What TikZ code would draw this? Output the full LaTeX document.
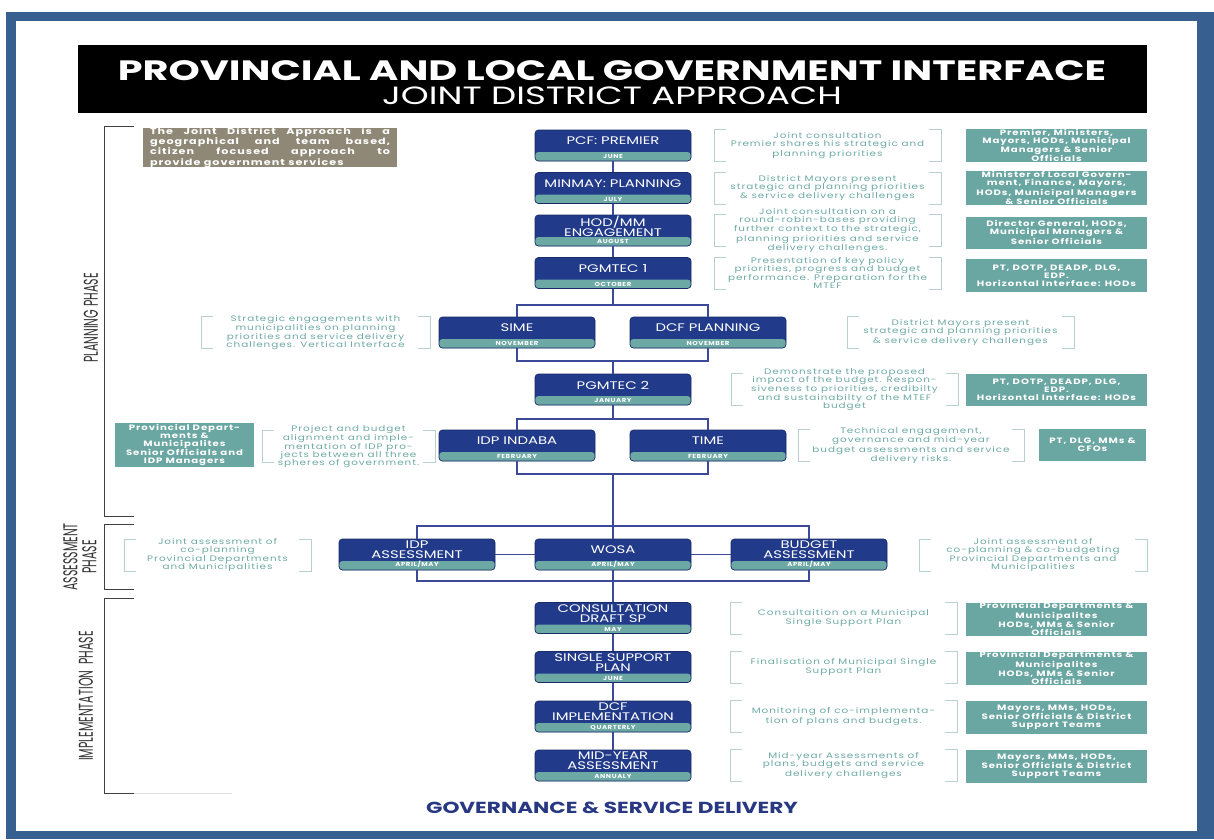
\documentclass[tikz,border=0pt]{standalone}
\usepackage{fontspec}
\setmainfont{Poppins}
\newfontfamily\bigfont[FakeStretch=1.42]{Poppins}
\newfontfamily\headfont[FakeStretch=1.35]{Poppins}
\newfontfamily\notefont[FakeStretch=1.3,LetterSpace=12]{Poppins}
\newfontfamily\smallfont[FakeStretch=1.2,LetterSpace=10]{Poppins}
\newfontfamily\phasefont[FakeStretch=0.55]{Poppins}
\usetikzlibrary{positioning,calc}

\definecolor{framebl}{RGB}{55,96,145}
\definecolor{navy}{RGB}{33,58,138}
\definecolor{bandteal}{RGB}{108,168,164}
\definecolor{boxteal}{RGB}{106,166,162}
\definecolor{notetxt}{RGB}{110,170,164}
\definecolor{brk}{RGB}{184,208,206}
\definecolor{wire}{RGB}{60,72,152}
\definecolor{khaki}{RGB}{143,136,119}
\definecolor{govblue}{RGB}{40,56,130}

\begin{document}
\begin{tikzpicture}[x=1pt,y=-1pt,
    wire/.style={draw=wire,line width=1.3pt},
    stage/.style={rectangle,rounded corners=3.5pt,fill=navy,draw=navy!75!black,line width=0.7pt,
      minimum width=156pt,minimum height=31pt,inner sep=0pt,
      path picture={\fill[bandteal] ([yshift=9pt]path picture bounding box.south west)
        rectangle (path picture bounding box.south east);}},
    stagetitle/.style={text=white,align=center,inner sep=0pt,
      font=\headfont\fontsize{11}{10}\selectfont},
    stagemonth/.style={anchor=south,text=white,inner sep=0pt,
      font=\smallfont\bfseries\fontsize{5.8}{6}\selectfont},
    note/.style={text=notetxt,align=center,inner sep=0pt,
      font=\notefont\fontsize{8}{8.2}\selectfont},
    bracket/.style={draw=brk,line width=0.9pt},
    tealbox/.style={fill=boxteal,text=white,align=center,inner sep=0pt,
      font=\notefont\bfseries\fontsize{7.8}{8}\selectfont},
    phase/.style={draw=black!75,line width=0.9pt},
    phaselabel/.style={rotate=90,text=black!80,align=center,inner sep=0pt,
      font=\phasefont\fontsize{20}{19}\selectfont}]

  \useasboundingbox (0,0) rectangle (1214,839);
  % frame
  \fill[framebl] (6,12) rectangle (1214,839);
  \fill[white] (16,21) rectangle (1197,831);

  % banner
  \node[fill=black,minimum width=1069pt,minimum height=68pt,inner sep=0pt] (banner) at (612.5,79) {};
  \node[text=white,font=\bigfont\bfseries\fontsize{28}{28}\selectfont] (title) at (612,71)
    {PROVINCIAL AND LOCAL GOVERNMENT INTERFACE};
  \node[text=white,font=\bigfont\fontsize{25}{25}\selectfont] (subtitle) at (612,96)
    {JOINT DISTRICT APPROACH};

  \node[fill=khaki,text=white,minimum width=254pt,minimum height=37pt,inner sep=0pt,
    text width=240pt,align=justify,font=\notefont\bfseries\fontsize{8.6}{9}\selectfont] (intro) at (270,147.5)
    {The Joint District Approach is a\linebreak geographical and team based,\linebreak
     citizen focused approach to\linebreak provide government services};

  % phases
  \draw[phase] (134,126) -| (104,516) -- (134,516);
  \draw[phase] (134,524) -| (104,589) -- (134,589);
  \draw[phase] (134,598) -| (104,793) -- (134,793);
  \draw[draw=black!12,line width=0.9pt] (134,793) -- (232,793);
  \node[phaselabel] (plan) at (91,318) {PLANNING PHASE};
  \node[phaselabel] (assess) at (80,557) {ASSESSMENT\\PHASE};
  \node[phaselabel] (impl) at (86,696) {IMPLEMENTATION\ \ PHASE};

  % stages
  \foreach \n/\x/\y/\ttl/\mon in {
      pcf/613/145.5/{PCF: PREMIER}/JUNE,
      minmay/613/188/{MINMAY: PLANNING}/JULY,
      hodmm/613/230.5/{HOD/MM\\ENGAGEMENT}/AUGUST,
      pgm1/613/273/{PGMTEC 1}/OCTOBER,
      sime/517/332.5/SIME/NOVEMBER,
      dcfp/708/332.5/{DCF PLANNING}/NOVEMBER,
      pgm2/613/389.5/{PGMTEC 2}/JANUARY,
      indaba/517/445.5/{IDP INDABA}/FEBRUARY,
      time/708/445.5/TIME/FEBRUARY,
      idpa/417/554.5/{IDP\\ASSESSMENT}/{APRIL/MAY},
      wosa/613/554.5/WOSA/{APRIL/MAY},
      budget/809/554.5/{BUDGET\\ASSESSMENT}/{APRIL/MAY},
      consult/613/618/{CONSULTATION\\DRAFT SP}/MAY,
      ssp/613/667/{SINGLE SUPPORT\\PLAN}/JUNE,
      dcfimp/613/716.5/{DCF\\IMPLEMENTATION}/QUARTERLY,
      midyear/613/765.5/{MID-YEAR\\ASSESSMENT}/ANNUALY}{
    \node[stage] (\n) at (\x,\y) {};
    \node[stagetitle] (\n-t) at ([yshift=4.5pt]\n.center) {\ttl};
    \node[stagemonth] (\n-m) at ([yshift=2.2pt]\n.south) {\mon};
  }

  % connectors
  \draw[wire] (pcf.south) -- (minmay.north);
  \draw[wire] (minmay.south) -- (hodmm.north);
  \draw[wire] (hodmm.south) -- (pgm1.north);
  \coordinate (b1top) at (613,305);
  \coordinate (b1bot) at (613,361);
  \draw[wire] (pgm1.south) -- (b1top);
  \draw[wire] (sime.north) |- (b1top) -| (dcfp.north);
  \draw[wire] (sime.south) |- (b1bot) -| (dcfp.south);
  \draw[wire] (b1bot) -- (pgm2.north);
  \coordinate (b2top) at (613,419);
  \coordinate (b2bot) at (613,474);
  \draw[wire] (pgm2.south) -- (b2top);
  \draw[wire] (indaba.north) |- (b2top) -| (time.north);
  \draw[wire] (indaba.south) |- (b2bot) -| (time.south);
  \coordinate (atop) at (613,526);
  \coordinate (abot) at (613,581);
  \draw[wire] (b2bot) -- (atop) -- (wosa.north);
  \draw[wire] (idpa.north) |- (atop) -| (budget.north);
  \draw[wire] (idpa.south) |- (abot) -| (budget.south);
  \draw[wire] (idpa) -- (wosa) (wosa) -- (budget);
  \draw[wire] (wosa.south) -- (abot) -- (consult.north);
  \draw[wire] (consult.south) -- (ssp.north);
  \draw[wire] (ssp.south) -- (dcfimp.north);
  \draw[wire] (dcfimp.south) -- (midyear.north);

  % descriptions in brackets
  \foreach \n/\x/\y/\w/\txt in {
      n1/827.5/145.5/227/{Joint consultation\\Premier shares his strategic and\\planning priorities},
      n2/827.5/188/227/{District Mayors present\\strategic and planning priorities\\\& service delivery challenges},
      n3/827.5/230.5/227/{Joint consultation on a\\round-robin-bases providing\\further context to the strategic,\\planning priorities and service\\delivery challenges.},
      n4/827.5/273/227/{Presentation of key policy\\priorities, progress and budget\\performance. Preparation for the\\MTEF},
      n5/315.5/332.5/229/{Strategic engagements with\\municipalities on planning\\priorities and service delivery\\challenges. Vertical Interface},
      n6/960.5/332.5/227/{District Mayors present\\strategic and planning priorities\\\& service delivery challenges},
      n7/844.5/389.5/227/{Demonstrate the proposed\\impact of the budget. Respon-\\siveness to priorities, credibilty\\and sustainabilty of the MTEF\\budget},
      n8/348.5/446.5/173/{Project and budget\\alignment and imple-\\mentation of IDP pro-\\jects between all three\\spheres of government.},
      n9/911/445.5/226/{Technical engagement,\\governance and mid-year\\budget assessments and service\\delivery risks.},
      n10/217.5/555/187/{Joint assessment of\\co-planning\\Provincial Departments\\and Municipalities},
      n11/1033/555/228/{Joint assessment of\\co-planning \& co-budgeting\\Provincial Departments and\\Municipalities},
      n12/843.5/618/227/{Consultaition on a Municipal\\Single Support Plan},
      n13/843.5/667/227/{Finalisation of Municipal Single\\Support Plan},
      n14/843.5/716.5/227/{Monitoring of co-implementa-\\tion of plans and budgets.},
      n15/843.5/765.5/227/{Mid-year Assessments of\\plans, budgets and service\\delivery challenges}}{
    \node[note] (\n) at (\x,\y) {\txt};
    \draw[bracket] (\x-\w/2+12,\y-16) -| (\x-\w/2,\y+16) -- ++(12,0)
                   (\x+\w/2-12,\y-16) -| (\x+\w/2,\y+16) -- ++(-12,0);
  }

  % who takes part
  \foreach \n/\x/\y/\w/\h/\txt in {
      t1/1056.5/145.5/181/32/{Premier, Ministers,\\Mayors, HODs, Municipal\\Managers \& Senior\\Officials},
      t2/1056.5/188/181/32/{Minister of Local Govern-\\ment, Finance, Mayors,\\HODs, Municipal Managers\\\& Senior Officials},
      t3/1056.5/232.5/181/32/{Director General, HODs,\\Municipal Managers \&\\Senior Officials},
      t4/1056.5/275.5/181/33/{PT, DOTP, DEADP, DLG,\\EDP.\\Horizontal Interface: HODs},
      t5/1056.5/390/181/32/{PT, DOTP, DEADP, DLG,\\EDP.\\Horizontal Interface: HODs},
      t6/1092.5/445/107/32/{PT, DLG, MMs \&\\CFOs},
      t7/184.5/445/139/44/{Provincial Depart-\\ments \&\\Municipalites\\Senior Officials and\\IDP Managers},
      t8/1056.5/619/181/33/{Provincial Departments \&\\Municipalites\\HODs, MMs \& Senior\\Officials},
      t9/1056.5/668/181/33/{Provincial Departments \&\\Municipalites\\HODs, MMs \& Senior\\Officials},
      t10/1056.5/717/181/33/{Mayors, MMs, HODs,\\Senior Officials \& District\\Support Teams},
      t11/1056.5/766/181/33/{Mayors, MMs, HODs,\\Senior Officials \& District\\Support Teams}}{
    \node[tealbox,minimum width=\w pt,minimum height=\h pt] (\n) at (\x,\y) {\txt};
  }

  \node[text=govblue,font=\headfont\bfseries\fontsize{16}{16}\selectfont] (gsd) at (612,808)
    {GOVERNANCE \& SERVICE DELIVERY};
\end{tikzpicture}
\end{document}
